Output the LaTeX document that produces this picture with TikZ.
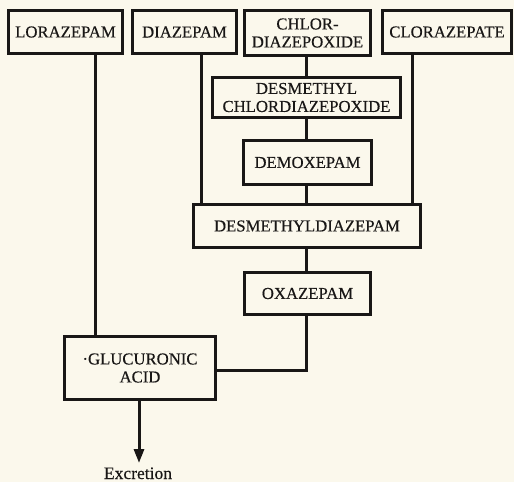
\documentclass[tikz,border=0pt]{standalone}
\usepackage{fontspec}
\setmainfont{Liberation Serif}
\newfontfamily\inkfont{Liberation Serif}[FakeBold=0.35]
\usetikzlibrary{arrows.meta}
\definecolor{paper}{RGB}{251,248,236}
\definecolor{ink}{RGB}{25,23,22}
\begin{document}
\begin{tikzpicture}[x=1pt,y=-1pt,
  drug/.style={draw=ink,line width=3pt,inner sep=0pt,align=center,
    text=ink,font=\inkfont\fontsize{16.7}{18}\selectfont},
  link/.style={draw=ink,line width=3pt}]
\path[fill=paper,use as bounding box] (0,0) rectangle (514,482);
% top row
\node[drug,minimum width=114pt,minimum height=43pt] (lor) at (65.5,32) {LORAZEPAM};
\node[drug,minimum width=104pt,minimum height=43pt] (dia) at (184.5,32) {DIAZEPAM};
\node[drug,minimum width=126pt,minimum height=45pt] (chl) at (307.5,33) {CHLOR-\\DIAZEPOXIDE};
\node[drug,minimum width=129pt,minimum height=43pt] (clo) at (447,32) {CLORAZEPATE};
% chain
\node[drug,minimum width=188pt,minimum height=40pt] (dmc) at (306.5,97.5) {DESMETHYL\\CHLORDIAZEPOXIDE};
\node[drug,minimum width=128pt,minimum height=44pt] (dmx) at (307.5,162.5) {DEMOXEPAM};
\node[drug,minimum width=227pt,minimum height=43pt] (dmd) at (307,226) {DESMETHYLDIAZEPAM};
\node[drug,minimum width=126pt,minimum height=42pt] (oxa) at (307.5,293.5) {OXAZEPAM};
\node[drug,minimum width=151pt,minimum height=63pt] (glu) at (140,368) {·GLUCURONIC\\ACID};
\node[text=ink,font=\inkfont\fontsize{17.5}{18}\selectfont,anchor=base] (exc) at (138,479) {Excretion};
% column x positions
\coordinate (xL) at (95,0);
\coordinate (xD) at (201,0);
\coordinate (xC) at (306,0);
\coordinate (xR) at (412,0);
\coordinate (turn) at (306,370);
\coordinate (tip) at (139,463);
% connectors
\draw[link] (lor.south -| xL) -- (glu.north -| xL);
\draw[link] (dia.south -| xD) -- (dmd.north -| xD);
\draw[link] (clo.south -| xR) -- (dmd.north -| xR);
\draw[link] (chl.south -| xC) -- (dmc.north -| xC);
\draw[link] (dmc.south -| xC) -- (dmx.north -| xC);
\draw[link] (dmx.south -| xC) -- (dmd.north -| xC);
\draw[link] (dmd.south -| xC) -- (oxa.north -| xC);
\draw[link] (oxa.south -| xC) -- (turn) -- (turn -| glu.east);
\draw[link,-{Triangle[length=14pt,width=10pt]}] (glu.south -| tip) -- (tip);
\end{tikzpicture}
\end{document}
